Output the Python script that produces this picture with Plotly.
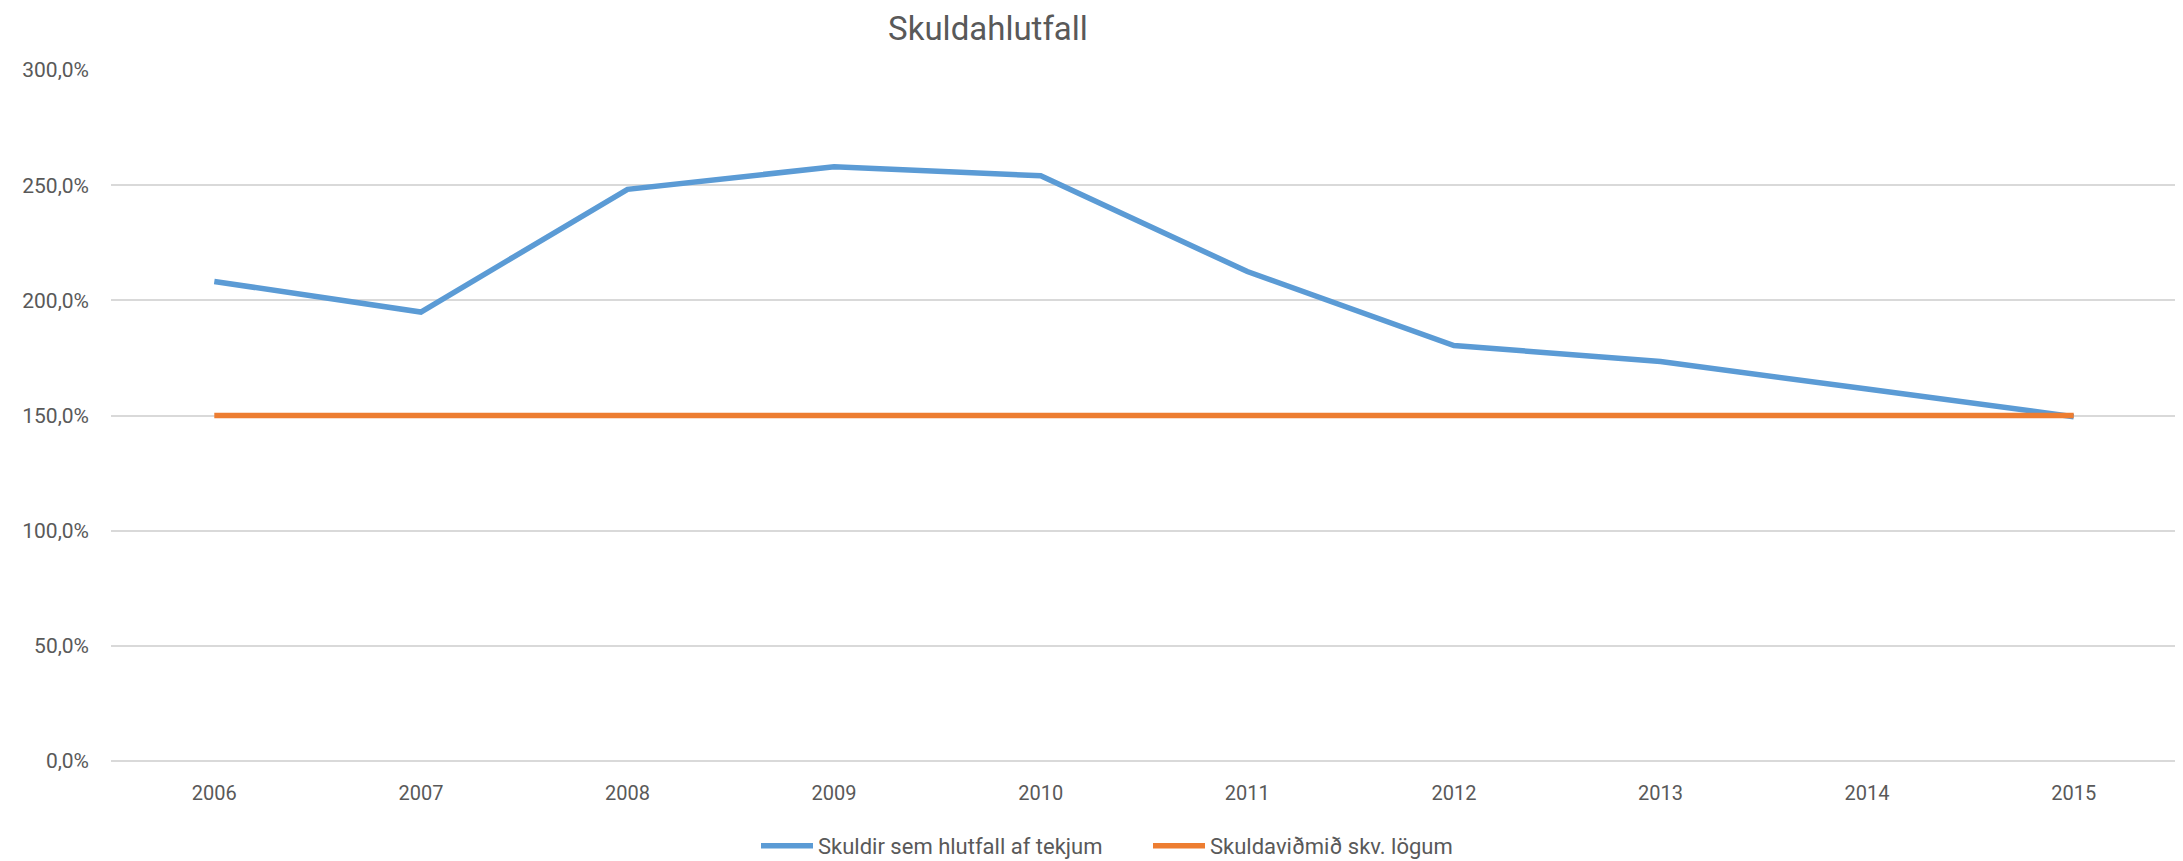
import plotly.graph_objects as go

years = ["2006", "2007", "2008", "2009", "2010", "2011", "2012", "2013", "2014", "2015"]
skuldir = [208.2, 194.9, 248.2, 258.0, 254.1, 212.5, 180.4, 173.4, 161.5, 149.5]
vidmid = [150.0] * 10

name_skuldir = "Skuldir sem hlutfall af tekjum"
name_vidmid = "Skuldaviðmið skv. lögum"
title_text = "Skuldahlutfall"

FONT = "Roboto, Open Sans, sans-serif"
GREY = "#595959"

# page body has an 8px margin; figure sized/positioned to compensate
W, H = 2175, 853
L, T, R, B = 103, 62, 6, 100
plot_h = H - T - B
plot_w = W - L - R

fig = go.Figure()
fig.add_trace(go.Scatter(x=years, y=skuldir, mode="lines", name=name_skuldir,
                         line=dict(color="#5b9bd5", width=5.5)))
fig.add_trace(go.Scatter(x=years, y=vidmid, mode="lines", name=name_vidmid,
                         line=dict(color="#ed7d31", width=5.5)))

fig.update_layout(
    width=W, height=H,
    autosize=False,
    paper_bgcolor="white", plot_bgcolor="white",
    separators=",.",
    margin=dict(l=L, r=R, t=T, b=B, autoexpand=False),
    title=dict(text=title_text, x=980 / W, xanchor="center",
               y=1 - 20 / H, yanchor="middle",
               font=dict(family=FONT, size=33, color=GREY)),
    font=dict(family=FONT, size=20, color=GREY),
    showlegend=True,
    legend=dict(orientation="h", x=(748 - L) / plot_w, xref="paper", xanchor="left",
                y=-(838 - (T + plot_h)) / plot_h, yanchor="middle",
                font=dict(family=FONT, size=22, color=GREY), itemwidth=52,
                entrywidth=325, entrywidthmode="pixels",
                traceorder="normal"),
    hovermode=False,
)
fig.update_xaxes(type="category", showgrid=False, showline=False, zeroline=False,
                 ticks="", tickfont=dict(family=FONT, size=20, color=GREY),
                 range=[-0.5, 9.5], ticklabelstandoff=18, automargin=False)
fig.update_yaxes(range=[0, 300], dtick=50, tickformat=".1f", ticksuffix="%",
                 showgrid=True, gridcolor="#d9d9d9", gridwidth=1.8,
                 zeroline=True, zerolinecolor="#d9d9d9", zerolinewidth=1.8,
                 showline=False, ticks="", ticklabelstandoff=21, automargin=False,
                 tickfont=dict(family=FONT, size=21, color=GREY))

fig.write_html("out.html")
